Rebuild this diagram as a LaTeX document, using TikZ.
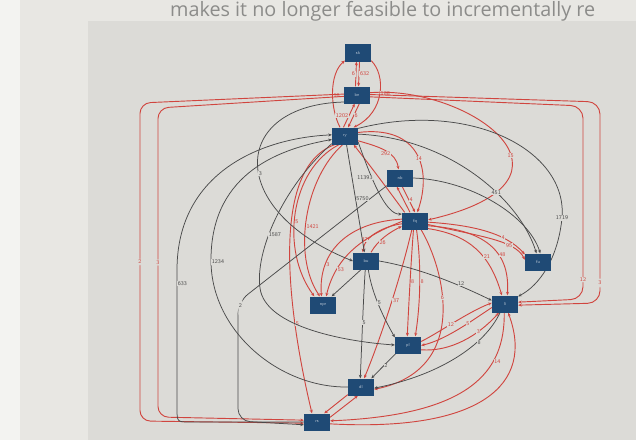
\documentclass[tikz,border=0pt]{standalone}
\usepackage{fontspec}
\newfontfamily\bookfont{Open Sans}
\usetikzlibrary{arrows.meta}

\definecolor{leftstrip}{HTML}{F3F3F1}
\definecolor{pagebg}{HTML}{E8E7E3}
\definecolor{panelbg}{HTML}{DCDBD7}
\definecolor{nodeblue}{HTML}{1F4A75}
\definecolor{edgered}{HTML}{D0453F}
\definecolor{edgegray}{HTML}{4A4A4A}
\definecolor{booktext}{HTML}{8C8C8A}

\pgfdeclarelayer{paper}
\pgfdeclarelayer{edges}
\pgfsetlayers{paper,edges,main}

\tikzset{
  box/.style={fill=nodeblue, minimum width=1.04cm, minimum height=0.68cm, inner sep=0pt,
    text=white!70!nodeblue, font=\fontsize{5}{5}\selectfont\sffamily},
  redge/.style={edgered, line width=1.05pt, -{Stealth[length=4pt,width=3.4pt]}},
  gedge/.style={edgegray, line width=0.85pt, -{Stealth[length=4pt,width=3.4pt]}},
  rlab/.style={text=edgered, fill=panelbg, inner sep=0.6pt, font=\fontsize{6.5}{7}\selectfont\sffamily},
  glab/.style={text=edgegray, fill=panelbg, inner sep=0.6pt, font=\fontsize{6.5}{7}\selectfont\sffamily}
}

\begin{document}
\begin{tikzpicture}[x=0.04cm,y=-0.04cm]
  \useasboundingbox (0,0) rectangle (636,440);
  \begin{pgfonlayer}{paper}
    \fill[leftstrip] (0,0) rectangle (20,440);
    \fill[pagebg] (20,0) rectangle (636,440);
    \fill[panelbg] (88,21) rectangle (636,440);
  \end{pgfonlayer}
  \node (HEAD) at (170,16) [anchor=base west,inner sep=0pt,text=booktext,
    font=\bookfont\fontsize{22.5}{22.5}\selectfont] {makes it no longer feasible to incrementally re};

  \node (SK) at (358,53)  [box] {sk};
  \node (BE) at (357,95)  [box] {be};
  \node (RY) at (345,136) [box] {ry};
  \node (NB) at (400,178) [box] {nb};
  \node (FQ) at (415,221) [box] {fq};
  \node (BU) at (366,261) [box] {bu};
  \node (FU) at (538,262) [box] {fu};
  \node (NP) at (323,305) [box] {npr};
  \node (LI) at (505,304) [box] {li};
  \node (PL) at (408,345) [box] {pl};
  \node (DL) at (361,387) [box] {dl};
  \node (RS) at (317,422) [box] {rs};

\begin{pgfonlayer}{edges}
%% red edges
\draw[redge] (BE.100) -- (SK.-100) node[rlab,pos=.5,left]{6};
\draw[redge] (SK.-80) -- (BE.80) node[rlab,pos=.5,right]{632};
\draw[redge] (RY.120) .. controls (330,108) and (329,74) .. (SK.-150) node[rlab,pos=.45,right]{16};
\draw[redge] (SK.-30) .. controls (386,75) and (385,112) .. (RY.45) node[rlab,pos=.5,right]{188};
\draw[redge] (RY.100) -- (BE.-105) node[rlab,pos=.5,left]{1202};
\draw[redge] (BE.-75) -- (RY.70) node[rlab,pos=.5,right]{6};

\draw[redge,rounded corners=12] (BE.176) -- (140,103) -- (140,421) node[rlab,pos=.5]{2} -- (RS.185);
\draw[redge,rounded corners=12] (BE.186) -- (158,108) -- (158,417) node[rlab,pos=.5]{3} -- (RS.172);
\draw[redge,rounded corners=14] (BE.2) -- (600,102) -- (600,303) node[rlab,pos=.9]{3} -- (LI.-5);
\draw[redge,rounded corners=14] (BE.-8) -- (583,106) -- (583,299) node[rlab,pos=.9]{12} -- (LI.8);

\draw[redge] (RY.-20) .. controls (380,147) and (396,152) .. (NB.100) node[rlab,pos=.5,below]{292};
\draw[redge] (RY.15) .. controls (420,125) and (432,170) .. (FQ.75) node[rlab,pos=.55]{14};
\draw[redge] (BE.10) .. controls (470,85) and (600,180) .. (FQ.5) node[rlab,pos=.6]{15};
\draw[redge] (FQ.140) .. controls (392,195) and (372,168) .. (RY.-45);
\draw[redge] (FQ.120) -- (NB.-110);
\draw[redge] (NB.-75) -- (FQ.90) node[rlab,pos=.5,right]{4};

\draw[redge] (RY.-125) .. controls (290,170) and (280,250) .. (NP.135) node[rlab,pos=.55,right]{5};
\draw[redge] (RY.-105) .. controls (305,178) and (292,255) .. (NP.110) node[rlab,pos=.55,right]{1421};
\draw[redge] (RY.-140) .. controls (265,170) and (292,330) .. (RS.120) node[rlab,pos=.7,right]{5};

\draw[redge] (FQ.192) .. controls (385,226) and (364,236) .. (BU.110) node[rlab,pos=.7,left]{37};
\draw[redge] (BU.60) .. controls (378,240) and (390,232) .. (FQ.202) node[rlab,pos=.3,right]{26};
\draw[redge] (FQ.172) .. controls (350,222) and (318,250) .. (NP.100) node[rlab,pos=.75,right]{3};
\draw[redge] (FQ.182) .. controls (365,236) and (336,255) .. (NP.70) node[rlab,pos=.75,right]{53};

\draw[redge] (FQ.-5) .. controls (470,225) and (505,232) .. (FU.150) node[rlab,pos=.7]{4};
\draw[redge] (FQ.-15) .. controls (478,236) and (515,240) .. (FU.170) node[rlab,pos=.7]{95};
\draw[redge] (FQ.-30) .. controls (470,235) and (490,255) .. (LI.110) node[rlab,pos=.6,right]{21};
\draw[redge] (FQ.-20) .. controls (490,230) and (510,255) .. (LI.75) node[rlab,pos=.6,right]{48};

\draw[redge] (FQ.-100) .. controls (411,262) and (409,300) .. (PL.95) node[rlab,pos=.5,right]{8};
\draw[redge] (FQ.-80) .. controls (421,262) and (421,300) .. (PL.50) node[rlab,pos=.5,right]{8};
\draw[redge] (FQ.-110) .. controls (400,280) and (380,340) .. (DL.70) node[rlab,pos=.45,right]{37};
\draw[redge] (FQ.-55) .. controls (445,270) and (470,370) .. (DL.-10) node[rlab,pos=.4]{6};

\draw[redge] (PL.15) .. controls (440,332) and (468,312) .. (LI.175) node[rlab,pos=.45]{12};
\draw[redge] (LI.-165) .. controls (470,322) and (445,340) .. (PL.-2) node[rlab,pos=.35]{5};
\draw[redge] (PL.-20) .. controls (450,352) and (478,336) .. (LI.-125) node[rlab,pos=.7]{3};
\draw[redge] (LI.-95) .. controls (505,372) and (470,415) .. (RS.5) node[rlab,pos=.3,right]{14};
\draw[redge] (RS.-8) .. controls (480,432) and (535,385) .. (LI.-70);
\draw[redge] (DL.-150) -- (RS.50);
\draw[redge] (RS.20) -- (DL.-110);

%% gray edges
\draw[gedge] (BE.-152) .. controls (230,105) and (225,210) .. (BU.west) node[glab,pos=.55,right=-1pt]{3};
\draw[gedge] (RS.west) -- (190,422) .. controls (177,422) .. (177,408) -- (177,270) node[glab,pos=.9,right]{633}
  .. controls (177,172) and (262,138) .. (RY.175);
\draw[gedge] (DL.west) .. controls (280,388) and (212,332) .. (211,262) node[glab,right]{1234}
  .. controls (210,178) and (272,150) .. (RY.195);
\draw[gedge] (RY.-150) .. controls (282,188) and (255,252) .. (260,288) node[glab,pos=.6,right=-1pt]{1587}
  .. controls (265,328) and (350,342) .. (PL.180);
\draw[gedge,rounded corners=14] (NB.-150) -- (238,302) -- (238,421) node[glab,pos=.03,right]{2} -- (RS.192);
\draw[gedge] (RY.-80) -- (BU.100) node[glab,pos=.5,right]{5750};
\draw[gedge] (RY.-25) .. controls (370,175) and (385,215) .. (FQ.152) node[glab,pos=.35,left=-2pt]{11393};
\draw[gedge] (RY.8) .. controls (450,138) and (520,200) .. (FU.100) node[glab,pos=.62]{451};
\draw[gedge] (NB.east) .. controls (470,180) and (528,215) .. (FU.75);
\draw[gedge] (RY.30) .. controls (470,100) and (568,150) .. (562,218) node[glab]{1719}
  .. controls (558,258) and (540,285) .. (LI.30);
\draw[gedge] (BU.east) .. controls (420,268) and (460,285) .. (LI.165) node[glab,pos=.7,above]{12};
\draw[gedge] (BU.-120) -- (NP.45);
\draw[gedge] (BU.-95) .. controls (363,305) and (362,340) .. (DL.95) node[glab,pos=.5,right=-1pt]{5};
\draw[gedge] (BU.-75) .. controls (372,295) and (385,320) .. (PL.150) node[glab,pos=.45,right=-1pt]{5};
\draw[gedge] (PL.-145) -- (DL.40) node[glab,pos=.5,right]{2};
\draw[gedge] (LI.-120) .. controls (485,345) and (440,375) .. (DL.-5) node[glab,pos=.32,right]{8};
\end{pgfonlayer}

\end{tikzpicture}
\end{document}
